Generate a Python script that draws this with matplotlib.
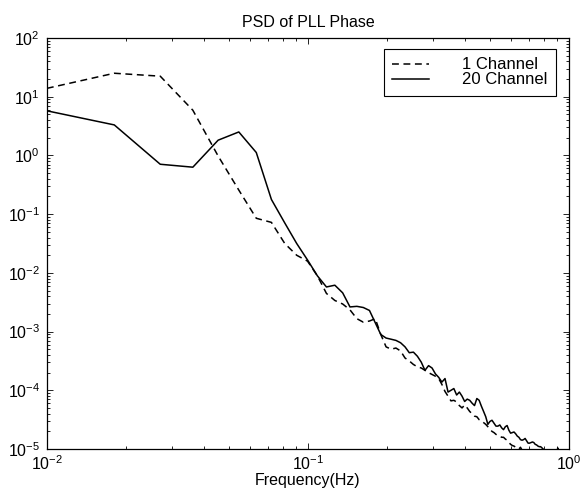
import numpy as np
import matplotlib
matplotlib.use("Agg")
import matplotlib.pyplot as plt
from matplotlib.ticker import LogLocator, NullFormatter

plt.rcParams['font.family'] = ['Liberation Sans', 'DejaVu Sans']
plt.rcParams['mathtext.fontset'] = 'custom'
plt.rcParams['mathtext.rm'] = 'Liberation Sans'
plt.rcParams['mathtext.it'] = 'Liberation Sans'
plt.rcParams['mathtext.default'] = 'regular'

# frequency bin spacing (Hz); bins k = 1, 2, 3, ...
df = 0.00905

# log10 of PSD, one value per bin
log_psd_1ch = [
    1.10, 1.40, 1.35, 0.77, -0.01, -0.59, -1.07, -1.14, -1.50, -1.70,
    -1.80, -2.05, -2.35, -2.47, -2.53, -2.63, -2.78, -2.84, -2.82, -2.78,
    -3.05, -3.26, -3.30, -3.28, -3.33, -3.45, -3.50, -3.56, -3.60, -3.62,
    -3.66, -3.70, -3.73, -3.76, -3.80, -3.90, -4.02, -4.10, -4.18, -4.17,
    -4.20, -4.26, -4.30, -4.25, -4.30, -4.36, -4.40, -4.44, -4.45, -4.50,
    -4.52, -4.55, -4.58, -4.62, -4.66, -4.70, -4.72, -4.75, -4.77, -4.78,
    -4.80, -4.80, -4.83, -4.85, -4.89, -4.92, -4.94, -4.95, -4.97, -4.98,
    -5.00, -4.97, -5.02, -5.03, -5.06, -5.05, -5.10, -5.08, -5.12, -5.15,
    -5.13, -5.18, -5.16, -5.20, -5.18, -5.22, -5.20, -5.25, -5.22, -5.24,
    -5.20, -5.26, -5.22, -5.18, -5.15, -5.12, -5.10, -5.08, -5.05, -4.98,
    -5.05, -5.20, -5.25, -5.30, -5.35,
]
log_psd_20ch = [
    0.80, 0.52, -0.15, -0.20, 0.26, 0.40, 0.05, -0.75, -1.15, -1.50,
    -1.78, -2.05, -2.24, -2.21, -2.34, -2.58, -2.57, -2.59, -2.64, -2.85,
    -3.05, -3.11, -3.13, -3.15, -3.19, -3.26, -3.36, -3.35, -3.42, -3.52,
    -3.66, -3.58, -3.62, -3.72, -3.78, -3.86, -3.80, -4.03, -4.00, -3.97,
    -4.08, -4.03, -4.10, -4.19, -4.15, -4.17, -4.22, -4.26, -4.14, -4.17,
    -4.27, -4.36, -4.45, -4.58, -4.53, -4.51, -4.56, -4.61, -4.61, -4.59,
    -4.64, -4.67, -4.62, -4.60, -4.68, -4.73, -4.72, -4.71, -4.74, -4.78,
    -4.80, -4.84, -4.85, -4.84, -4.82, -4.86, -4.90, -4.90, -4.89, -4.88,
    -4.89, -4.92, -4.93, -4.95, -4.96, -4.96, -4.98, -5.00, -5.08, -5.15,
    -5.12, -5.20, -5.18, -5.25, -5.22, -5.30, -5.28, -5.35, -5.32, -5.38,
]

freq_1ch = df * np.arange(1, len(log_psd_1ch) + 1)
freq_20ch = df * np.arange(1, len(log_psd_20ch) + 1)
psd_1ch = 10.0 ** np.array(log_psd_1ch)
psd_20ch = 10.0 ** np.array(log_psd_20ch)

fig = plt.figure(figsize=(5.82, 4.93), dpi=100)
ax = fig.add_axes([0.0808, 0.0892, 0.8969, 0.8337])

ax.loglog(freq_1ch, psd_1ch, color='black', lw=1.1, dashes=(4.5, 3.0), label='1 Channel')
ax.loglog(freq_20ch, psd_20ch, color='black', lw=1.1, label='20 Channel')

ax.set_xlim(1e-2, 1e0)
ax.set_ylim(1e-5, 1e2)
ax.yaxis.set_major_locator(LogLocator(base=10, numticks=20))
ax.yaxis.set_minor_locator(LogLocator(base=10, subs=np.arange(2, 10), numticks=20))
ax.xaxis.set_minor_formatter(NullFormatter())
ax.yaxis.set_minor_formatter(NullFormatter())

ax.tick_params(which='both', direction='in', top=True, right=True, width=0.6)
ax.tick_params(which='major', length=4.5, labelsize=11.5, pad=5)
ax.tick_params(which='minor', length=2.2)
ax.tick_params(axis='x', pad=4)
for s in ax.spines.values():
    s.set_linewidth(0.9)

ax.set_title('PSD of PLL Phase', fontsize=11.5, pad=8)
ax.set_xlabel('Frequency(Hz)', fontsize=11.5, labelpad=0)

leg = ax.legend(loc='upper right', bbox_to_anchor=(0.975, 0.973), borderaxespad=0,
                fontsize=12, fancybox=False, framealpha=1, edgecolor='black',
                handlelength=2.2, handletextpad=2.0, labelspacing=0.0,
                borderpad=0.5)
leg.get_frame().set_linewidth(0.8)

fig.savefig('out.png', dpi=100)
